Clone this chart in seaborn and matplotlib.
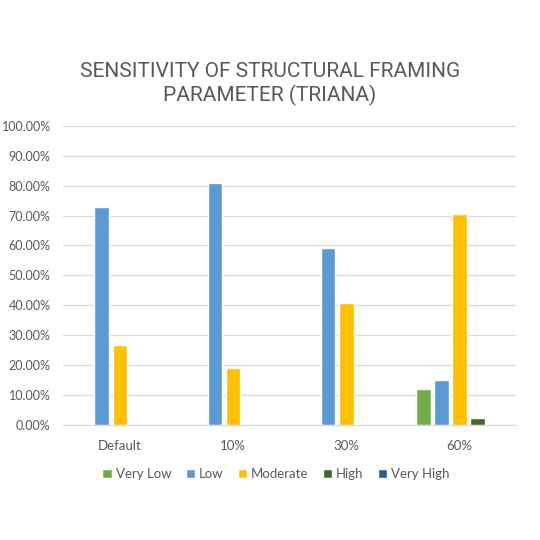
import pandas as pd
import matplotlib.pyplot as plt
import seaborn as sns
from matplotlib.ticker import PercentFormatter

# data (percent)
settings = ['Default', '10%', '30%', '60%']
levels = ['Very Low', 'Low', 'Moderate', 'High', 'Very High']
very_low = [0, 0, 0, 12.0]
low = [73.0, 80.8, 59.3, 15.1]
moderate = [26.8, 19.2, 40.7, 70.6]
high = [0, 0, 0, 2.3]
very_high = [0, 0, 0, 0]

colors = ['#70AD47', '#5B9BD5', '#FFC000', '#43682B', '#255E91']

rows = []
for lvl, vals in zip(levels, [very_low, low, moderate, high, very_high]):
    for s, v in zip(settings, vals):
        rows.append({'setting': s, 'level': lvl, 'share': v})
df = pd.DataFrame(rows)

sns.set_style('white')
plt.rcParams['font.family'] = ['Lato', 'DejaVu Sans']

fig = plt.figure(figsize=(5.4, 5.4), dpi=100)
ax = fig.add_axes([0.117, 0.213, 0.839, 0.554])

sns.barplot(data=df, x='setting', y='share', hue='level', order=settings,
            hue_order=levels, palette=colors, width=0.8, gap=0.2,
            saturation=1, ax=ax, legend=True)

ax.set_ylim(0, 100)
ax.set_xlim(-0.5, 3.5)
ax.set_yticks(range(0, 101, 10))
ax.yaxis.set_major_formatter(PercentFormatter(decimals=2))
ax.grid(axis='y', color='#D9D9D9', linewidth=0.9)
ax.set_axisbelow(True)
for side in ['top', 'right', 'left']:
    ax.spines[side].set_visible(False)
ax.spines['bottom'].set_color('#D9D9D9')
ax.tick_params(axis='x', length=0, labelsize=9.5, colors='#595959', pad=11)
ax.tick_params(axis='y', length=0, labelsize=9, colors='#595959', pad=9)
ax.set_xlabel('')
ax.set_ylabel('')

ax.legend(loc='center', bbox_to_anchor=(0.47, -0.165), ncol=5, frameon=False,
          fontsize=9.5, labelcolor='#595959', handlelength=0.7, handleheight=0.7,
          handletextpad=0.3, columnspacing=1.1)

fig.text(0.5, 0.845, 'SENSITIVITY OF STRUCTURAL FRAMING\nPARAMETER (TRIANA)',
         ha='center', va='center', fontsize=15, color='#595959',
         family=['Roboto', 'DejaVu Sans'], linespacing=1.25)

fig.savefig('out.png', dpi=100, facecolor='white')
